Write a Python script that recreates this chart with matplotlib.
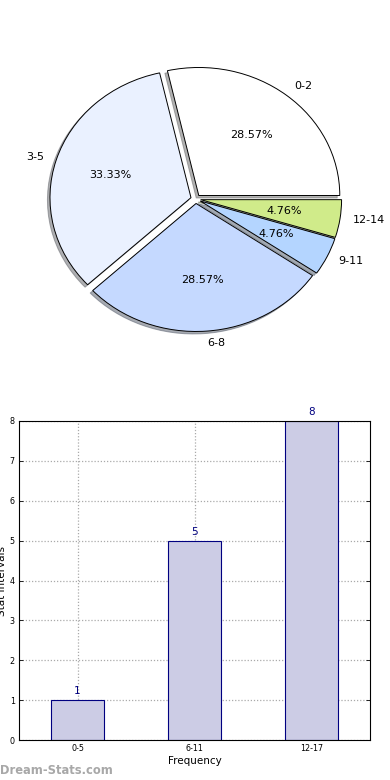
import matplotlib
matplotlib.use("Agg")
import matplotlib.pyplot as plt
import numpy as np

# ---- data ----
pie_labels = ["0-2", "3-5", "6-8", "9-11", "12-14"]
pie_values = [6, 7, 6, 1, 1]
pie_colors = ["#FFFFFF", "#EAF1FF", "#C5D9FF", "#B4D5FF", "#D0EB8A"]

bar_labels = ["0-5", "6-11", "12-17"]
bar_values = [1, 5, 8]

plt.rcParams['font.family'] = ['DejaVu Sans']

fig = plt.figure(figsize=(3.9, 7.8), dpi=100)
fig.patch.set_facecolor("white")

# ---- pie ----
W, H = 390.0, 780.0
rx, ry = 141.0, 128.0
cx, cy = 195.7, 199.0
lim = 1.25
axw = 2 * lim * rx
axh = 2 * lim * ry
left = (cx - axw / 2) / W
top = (cy - axh / 2)
bottom = (H - (top + axh)) / H
ax1 = fig.add_axes([left, bottom, axw / W, axh / H])
wedges, texts, autotexts = ax1.pie(
    pie_values, labels=pie_labels, colors=pie_colors,
    explode=[0.035] * len(pie_values), autopct="%1.2f%%",
    shadow=dict(ox=-0.013, oy=-0.014, shade=0.6),
    startangle=0, counterclock=True,
    wedgeprops=dict(edgecolor="black", linewidth=0.7),
    textprops=dict(fontsize=8), labeldistance=1.09, pctdistance=0.6)
ax1.set_aspect("auto")
ax1.set_xlim(-lim, lim)
ax1.set_ylim(-lim, lim)
ax1.axis("off")

# ---- bar ----
ax2 = fig.add_axes([19 / W, (H - 740) / H, 351 / W, 319 / H])
x = np.arange(len(bar_values))
bars = ax2.bar(x, bar_values, width=0.45, color="#CCCCE5",
               edgecolor="#000080", linewidth=0.8, zorder=2)
for xi, v in zip(x, bar_values):
    ax2.text(xi, v + 0.1, str(v), ha="center", va="bottom",
             color="#000080", fontsize=7.5)
ax2.set_xlim(-0.5, 2.5)
ax2.set_ylim(0, 8)
ax2.set_xticks(x)
ax2.set_xticklabels(bar_labels)
ax2.set_yticks(range(0, 9))
ax2.tick_params(axis="both", labelsize=5.8, direction="in",
                top=False, right=True, length=3, width=0.6, pad=3)
ax2.grid(True, linestyle=(0, (1, 1.5)), color="#AAAAAA", linewidth=0.9, zorder=0)
ax2.set_axisbelow(True)
for s in ax2.spines.values():
    s.set_linewidth(0.8)
ax2.set_xlabel("Frequency", fontsize=7.5, labelpad=2)
ax2.set_ylabel("Stat Intervals", fontsize=7.5, labelpad=2)

fig.text(0.0, 9 / H, "Dream-Stats.com", color="#A8A8A8",
         fontsize=8.3, fontweight="bold", ha="left", va="center")

fig.savefig("out.png", dpi=100, facecolor="white")
